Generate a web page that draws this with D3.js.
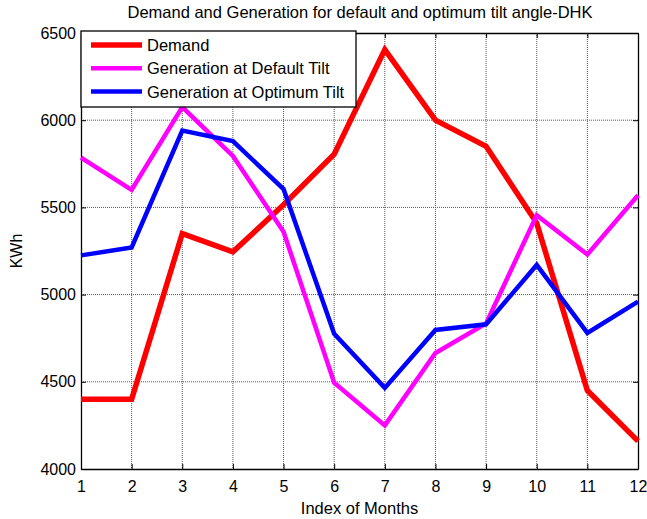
<!DOCTYPE html>
<html>
<head>
<meta charset="utf-8">
<script src="https://cdn.jsdelivr.net/npm/d3@7"></script>
<style>
  html, body { margin: 0; padding: 0; background: #fff; }
  svg { display: block; font-family: "Liberation Sans", Arial, sans-serif; }
</style>
</head>
<body>
<div id="chart"></div>
<script>
// Monthly demand and PV generation (kWh) for Dhaka
const months = [1, 2, 3, 4, 5, 6, 7, 8, 9, 10, 11, 12];
const demand = [4400, 4400, 5350, 5245, 5515, 5805, 6405, 6000, 5850, 5410, 4450, 4160];
const genDefault = [5785, 5600, 6075, 5795, 5360, 4495, 4250, 4665, 4835, 5455, 5230, 5570];
const genOptimum = [5225, 5270, 5940, 5880, 5605, 4775, 4465, 4797, 4830, 5170, 4780, 4960];
const yTicks = [4000, 4500, 5000, 5500, 6000, 6500];
const seriesNames = ["Demand", "Generation at Default Tilt", "Generation at Optimum Tilt"];
const seriesColors = ["#ff0000", "#ff00ff", "#0000ff"];
const seriesWidths = [5.5, 4.5, 4.5];

const W = 647, H = 519;
const m = { left: 81, right: 9, top: 33, bottom: 50 };
const iw = W - m.left - m.right, ih = H - m.top - m.bottom;

const svg = d3.select("#chart").append("svg").attr("width", W).attr("height", H);
const g = svg.append("g").attr("transform", `translate(${m.left},${m.top})`);

const x = d3.scaleLinear().domain([1, 12]).range([0, iw]);
const y = d3.scaleLinear().domain([4000, 6500]).range([ih, 0]);

// dotted grid
const grid = g.append("g").attr("stroke", "#555").attr("stroke-width", 1)
  .attr("stroke-dasharray", "1,1");
grid.selectAll("line.v").data(months.slice(1, -1)).join("line")
  .attr("x1", d => x(d)).attr("x2", d => x(d)).attr("y1", 0).attr("y2", ih);
grid.selectAll("line.h").data(yTicks.slice(1, -1)).join("line")
  .attr("y1", d => y(d)).attr("y2", d => y(d)).attr("x1", 0).attr("x2", iw);

// axes with inward ticks on all four sides
const fs = "16px";
const axB = g.append("g").attr("transform", `translate(0,${ih})`)
  .call(d3.axisBottom(x).tickValues(months).tickFormat(d3.format("d")).tickSizeInner(-5).tickSizeOuter(0).tickPadding(12));
const axT = g.append("g")
  .call(d3.axisTop(x).tickValues(months).tickFormat("").tickSizeInner(-5).tickSizeOuter(0));
const axL = g.append("g")
  .call(d3.axisLeft(y).tickValues(yTicks).tickFormat(d3.format("d")).tickSizeInner(-5).tickSizeOuter(0).tickPadding(5));
const axR = g.append("g").attr("transform", `translate(${iw},0)`)
  .call(d3.axisRight(y).tickValues(yTicks).tickFormat("").tickSizeInner(-5).tickSizeOuter(0));
[axB, axT, axL, axR].forEach(a => {
  a.select(".domain").attr("stroke", "#000").attr("stroke-width", 1.3);
  a.selectAll(".tick line").attr("stroke", "#000");
  a.selectAll("text").attr("fill", "#000").style("font-size", fs).style("font-family", "Liberation Sans, Arial, sans-serif");
});

// series lines
const seriesData = [demand, genDefault, genOptimum];
const line = d3.line().x((d, i) => x(months[i])).y(d => y(d));
g.selectAll("path.series").data(seriesData).join("path")
  .attr("class", "series")
  .attr("fill", "none")
  .attr("stroke", (d, i) => seriesColors[i])
  .attr("stroke-width", (d, i) => seriesWidths[i])
  .attr("stroke-linejoin", "miter")
  .attr("d", line);

// legend
const lg = svg.append("g").attr("transform", "translate(81,31)");
lg.append("rect").attr("width", 275).attr("height", 76)
  .attr("fill", "#fff").attr("stroke", "#000").attr("stroke-width", 1.3);
const rows = lg.selectAll("g.row").data(seriesNames).join("g")
  .attr("transform", (d, i) => `translate(0,${14 + i * 23.3})`);
rows.append("line").attr("x1", 10).attr("x2", 61).attr("y1", 0).attr("y2", 0)
  .attr("stroke", (d, i) => seriesColors[i]).attr("stroke-width", (d, i) => seriesWidths[i]);
rows.append("text").attr("x", 66).attr("y", 0).attr("dy", "0.36em")
  .style("font-size", "16.5px").text(d => d);

// title and axis labels
svg.append("text").attr("x", 360).attr("y", 18).attr("text-anchor", "middle")
  .style("font-size", "16.5px").text("Demand and Generation for default and optimum tilt angle-DHK");
svg.append("text").attr("x", m.left + iw / 2).attr("y", 514).attr("text-anchor", "middle")
  .style("font-size", "16.5px").text("Index of Months");
svg.append("text").attr("transform", `translate(22,${m.top + ih / 2}) rotate(-90)`)
  .attr("text-anchor", "middle").style("font-size", "16px").text("KWh");
</script>
</body>
</html>
